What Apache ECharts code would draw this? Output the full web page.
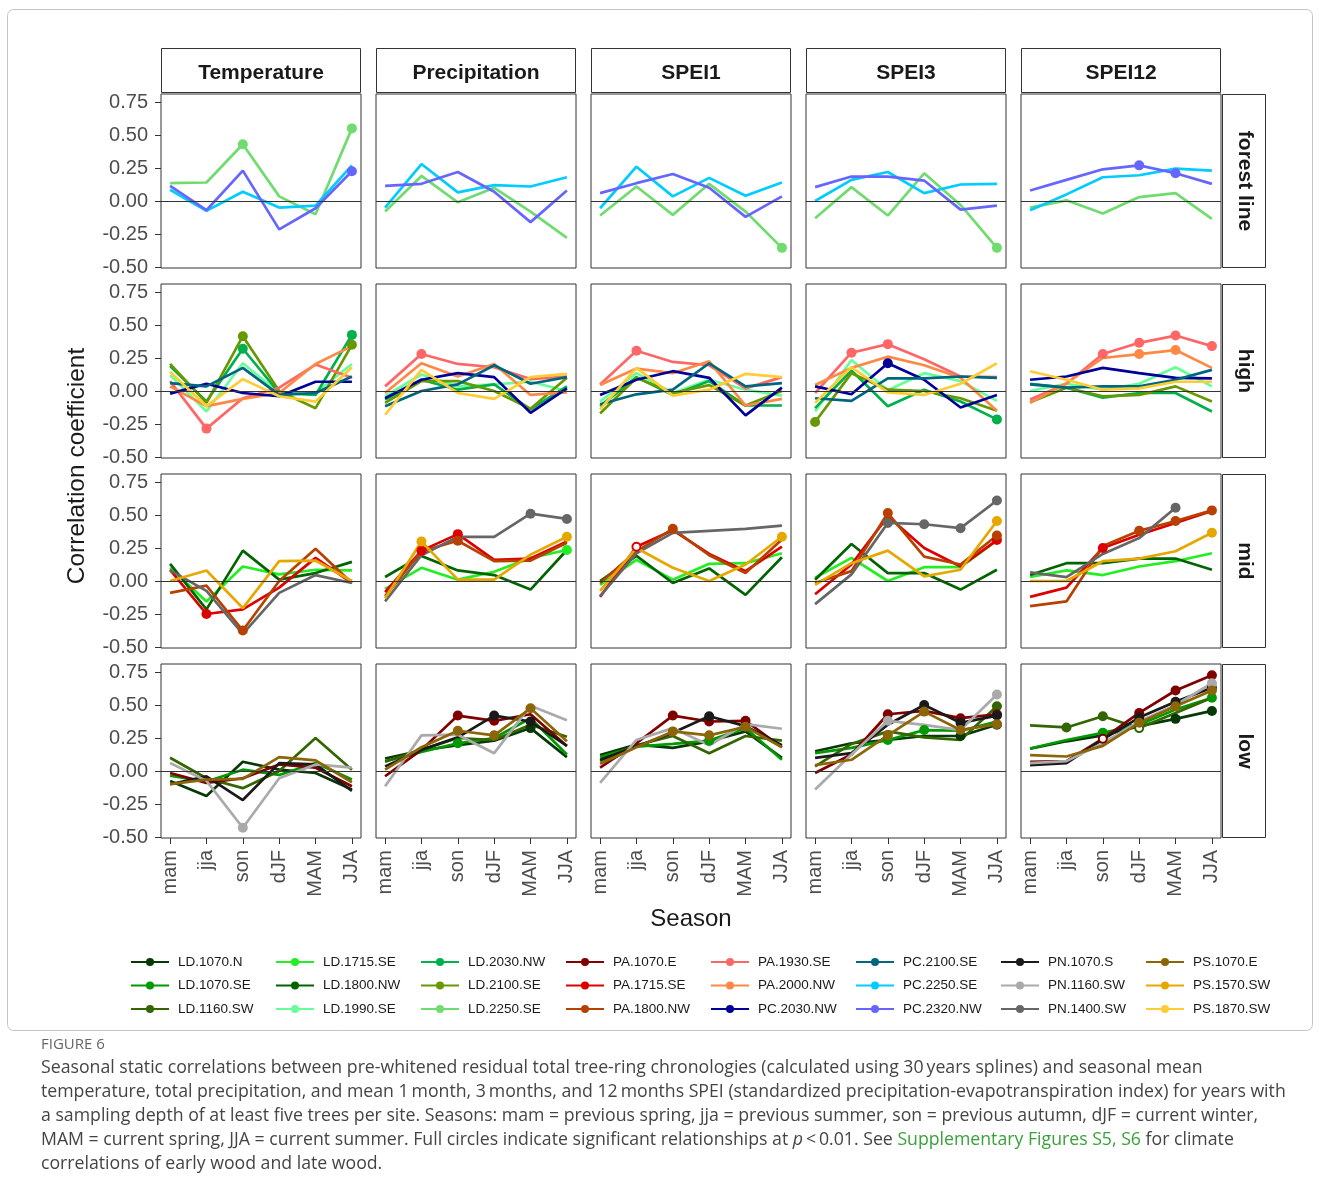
<!DOCTYPE html>
<html>
<head>
<meta charset="utf-8">
<script src="https://cdn.jsdelivr.net/npm/echarts@6/dist/echarts.min.js"></script>
<style>
html, body { margin: 0; padding: 0; background: #fff; }
#chart { width: 1320px; height: 1198px; }
</style>
</head>
<body>
<div id="chart"></div>
<script>
// ---- categories ----
const seasons = ['mam', 'jja', 'son', 'dJF', 'MAM', 'JJA'];
const climateVars = ['Temperature', 'Precipitation', 'SPEI1', 'SPEI3', 'SPEI12'];
const elevations = ['forest line', 'high', 'mid', 'low'];
const yTicks = [-0.5, -0.25, 0, 0.25, 0.5, 0.75];

const sites = [
  'LD.1070.N', 'LD.1070.SE', 'LD.1160.SW', 'LD.1715.SE', 'LD.1800.NW', 'LD.1990.SE',
  'LD.2030.NW', 'LD.2100.SE', 'LD.2250.SE', 'PA.1070.E', 'PA.1715.SE', 'PA.1800.NW',
  'PA.1930.SE', 'PA.2000.NW', 'PC.2030.NW', 'PC.2100.SE', 'PC.2250.SE', 'PC.2320.NW',
  'PN.1070.S', 'PN.1160.SW', 'PN.1400.SW', 'PS.1070.E', 'PS.1570.SW', 'PS.1870.SW'
];
const siteElevation = [
  'low', 'low', 'low', 'mid', 'mid', 'high',
  'high', 'high', 'forest line', 'low', 'mid', 'mid',
  'high', 'high', 'high', 'high', 'forest line', 'forest line',
  'low', 'low', 'mid', 'low', 'mid', 'high'
];
const siteColors = [
  '#073807', '#009a00', '#336600', '#22ee22', '#006400', '#66ff99',
  '#00b04c', '#669900', '#70dc70', '#800000', '#dd0000', '#b84000',
  '#ff6666', '#ff8844', '#000099', '#006680', '#00ccff', '#6666ff',
  '#1a1a1a', '#aaaaaa', '#666666', '#8b6508', '#e6a800', '#ffcc33'
];

// ---- correlation coefficients: rows = climate variable, columns = season ----
const LD_1070_N = [
  [-0.075, -0.19, 0.07, 0.01, -0.015, -0.14],
  [0.095, 0.155, 0.195, 0.23, 0.325, 0.105],
  [0.12, 0.20, 0.175, 0.225, 0.30, 0.10],
  [0.15, 0.21, 0.235, 0.265, 0.265, 0.35],
  [0.17, 0.225, 0.27, 0.34, 0.395, 0.455]
];
const LD_1070_SE = [
  [-0.035, -0.08, 0.01, -0.03, 0.06, -0.065],
  [0.075, 0.145, 0.21, 0.25, 0.40, 0.125],
  [0.105, 0.185, 0.205, 0.23, 0.325, 0.085],
  [0.135, 0.175, 0.235, 0.31, 0.305, 0.375],
  [0.17, 0.235, 0.29, 0.35, 0.465, 0.555]
];
const LD_1160_SW = [
  [0.10, -0.055, -0.13, 0.0, 0.25, 0.01],
  [0.07, 0.16, 0.25, 0.235, 0.35, 0.26],
  [0.075, 0.195, 0.265, 0.135, 0.265, 0.23],
  [0.035, 0.205, 0.30, 0.255, 0.235, 0.49],
  [0.345, 0.33, 0.415, 0.325, 0.44, 0.555]
];
const LD_1715_SE = [
  [0.10, -0.155, 0.11, 0.05, 0.085, 0.08],
  [-0.06, 0.10, 0.01, 0.07, 0.175, 0.235],
  [-0.03, 0.16, 0.01, 0.13, 0.135, 0.21],
  [0.025, 0.175, 0.0, 0.105, 0.105, 0.305],
  [0.03, 0.08, 0.045, 0.11, 0.15, 0.21]
];
const LD_1800_NW = [
  [0.13, -0.215, 0.23, 0.01, 0.06, 0.145],
  [0.03, 0.19, 0.08, 0.045, -0.065, 0.235],
  [0.0, 0.19, -0.015, 0.095, -0.105, 0.18],
  [0.01, 0.28, 0.06, 0.06, -0.065, 0.085],
  [0.045, 0.135, 0.135, 0.17, 0.17, 0.085]
];
const LD_1990_SE = [
  [0.12, -0.155, 0.21, -0.015, -0.015, 0.205],
  [-0.04, 0.125, 0.035, 0.05, 0.07, 0.0],
  [-0.08, 0.135, -0.015, 0.085, 0.01, -0.035],
  [-0.155, 0.235, 0.005, 0.135, 0.075, -0.075],
  [0.0, 0.055, 0.01, 0.055, 0.18, 0.035]
];
const LD_2030_NW = [
  [0.19, -0.08, 0.32, -0.015, -0.03, 0.425],
  [-0.065, 0.085, 0.01, 0.05, -0.14, 0.035],
  [-0.115, 0.105, -0.03, 0.075, -0.11, -0.11],
  [-0.13, 0.155, -0.115, 0.01, -0.08, -0.215],
  [0.055, 0.025, -0.05, -0.015, -0.015, -0.155]
];
const LD_2100_SE = [
  [0.205, -0.09, 0.415, 0.0, -0.13, 0.35],
  [-0.09, 0.075, 0.075, 0.0, -0.135, 0.10],
  [-0.17, 0.10, -0.015, 0.045, -0.11, 0.0],
  [-0.235, 0.135, 0.01, 0.0, -0.055, -0.15],
  [-0.085, 0.025, -0.04, -0.03, 0.035, -0.08]
];
const LD_2250_SE = [
  [0.135, 0.14, 0.43, 0.035, -0.10, 0.55],
  [-0.08, 0.19, -0.01, 0.10, -0.08, -0.28],
  [-0.11, 0.11, -0.105, 0.13, -0.08, -0.355],
  [-0.13, 0.105, -0.11, 0.21, -0.03, -0.355],
  [-0.05, 0.005, -0.095, 0.03, 0.06, -0.135]
];
const PA_1070_E = [
  [-0.015, -0.09, -0.055, 0.05, 0.025, -0.115],
  [-0.04, 0.16, 0.42, 0.38, 0.43, 0.19],
  [0.025, 0.21, 0.42, 0.375, 0.38, 0.18],
  [-0.015, 0.125, 0.43, 0.455, 0.40, 0.43],
  [0.07, 0.075, 0.245, 0.44, 0.61, 0.725]
];
const PA_1715_SE = [
  [0.085, -0.25, -0.215, -0.05, 0.175, -0.015],
  [-0.085, 0.23, 0.355, 0.16, 0.17, 0.30],
  [-0.12, 0.26, 0.385, 0.205, 0.075, 0.26],
  [-0.10, 0.125, 0.49, 0.25, 0.11, 0.31],
  [-0.12, -0.05, 0.25, 0.35, 0.44, 0.53]
];
const PA_1800_NW = [
  [-0.09, -0.035, -0.375, 0.0, 0.245, -0.015],
  [-0.115, 0.225, 0.305, 0.15, 0.155, 0.29],
  [-0.015, 0.225, 0.395, 0.195, 0.06, 0.315],
  [-0.015, 0.075, 0.515, 0.185, 0.125, 0.345],
  [-0.19, -0.155, 0.265, 0.38, 0.455, 0.535]
];
const PA_1930_SE = [
  [0.075, -0.285, -0.055, 0.025, 0.20, 0.10],
  [0.035, 0.28, 0.205, 0.18, 0.09, 0.11],
  [0.05, 0.305, 0.22, 0.195, 0.02, 0.105],
  [-0.015, 0.29, 0.355, 0.24, 0.11, 0.105],
  [-0.065, 0.055, 0.28, 0.365, 0.42, 0.34]
];
const PA_2000_NW = [
  [0.035, -0.115, -0.06, -0.015, 0.205, 0.34],
  [-0.015, 0.21, 0.11, 0.205, -0.03, -0.01],
  [0.045, 0.17, 0.135, 0.225, -0.11, -0.06],
  [0.045, 0.175, 0.26, 0.195, 0.10, -0.15],
  [-0.09, 0.06, 0.25, 0.28, 0.31, 0.175]
];
const PC_2030_NW = [
  [-0.02, 0.055, -0.015, -0.04, 0.07, 0.07],
  [-0.055, 0.085, 0.135, 0.105, -0.165, 0.02],
  [-0.03, 0.085, 0.15, 0.10, -0.185, 0.025],
  [0.035, -0.025, 0.21, 0.085, -0.125, -0.03],
  [0.085, 0.11, 0.175, 0.135, 0.10, 0.095]
];
const PC_2100_SE = [
  [0.06, 0.035, 0.175, -0.03, -0.015, 0.11],
  [-0.115, 0.0, 0.05, 0.195, 0.055, 0.105],
  [-0.10, -0.025, 0.01, 0.21, 0.035, 0.06],
  [-0.055, -0.075, 0.095, 0.095, 0.11, 0.10],
  [0.05, 0.025, 0.035, 0.035, 0.085, 0.16]
];
const PC_2250_SE = [
  [0.085, -0.075, 0.07, -0.05, -0.035, 0.27],
  [-0.05, 0.28, 0.065, 0.12, 0.11, 0.18],
  [-0.055, 0.26, 0.035, 0.175, 0.04, 0.14],
  [0.0, 0.16, 0.22, 0.06, 0.125, 0.13],
  [-0.07, 0.05, 0.18, 0.195, 0.245, 0.23]
];
const PC_2320_NW = [
  [0.115, -0.07, 0.23, -0.215, -0.055, 0.225],
  [0.115, 0.13, 0.22, 0.07, -0.16, 0.08],
  [0.06, 0.135, 0.205, 0.10, -0.12, 0.035],
  [0.105, 0.185, 0.185, 0.155, -0.065, -0.035],
  [0.08, 0.16, 0.24, 0.27, 0.21, 0.13]
];
const PN_1070_S = [
  [-0.10, -0.04, -0.22, 0.06, 0.05, -0.15],
  [0.035, 0.16, 0.255, 0.42, 0.375, 0.19],
  [0.085, 0.185, 0.29, 0.415, 0.34, 0.195],
  [0.10, 0.135, 0.35, 0.50, 0.365, 0.42],
  [0.045, 0.06, 0.24, 0.405, 0.525, 0.63]
];
const PN_1160_SW = [
  [0.06, -0.075, -0.43, -0.055, 0.05, 0.025],
  [-0.115, 0.27, 0.275, 0.135, 0.495, 0.385],
  [-0.09, 0.235, 0.325, 0.195, 0.355, 0.32],
  [-0.14, 0.125, 0.38, 0.35, 0.31, 0.58],
  [0.06, 0.075, 0.21, 0.375, 0.50, 0.665]
];
const PN_1400_SW = [
  [0.08, -0.075, -0.40, -0.09, 0.045, -0.015],
  [-0.155, 0.195, 0.335, 0.335, 0.51, 0.47],
  [-0.115, 0.21, 0.365, 0.38, 0.395, 0.42],
  [-0.175, 0.05, 0.44, 0.43, 0.40, 0.61],
  [0.065, 0.03, 0.205, 0.325, 0.555, null]
];
const PS_1070_E = [
  [-0.10, -0.065, -0.06, 0.105, 0.08, -0.085],
  [0.01, 0.18, 0.305, 0.27, 0.475, 0.225],
  [0.055, 0.18, 0.30, 0.27, 0.335, 0.18],
  [0.045, 0.085, 0.27, 0.45, 0.31, 0.355],
  [0.12, 0.11, 0.19, 0.365, 0.49, 0.61]
];
const PS_1570_SW = [
  [0.0, 0.08, -0.205, 0.15, 0.155, 0.0],
  [-0.13, 0.30, 0.01, 0.01, 0.20, 0.335],
  [-0.075, 0.25, 0.10, 0.0, 0.125, 0.335],
  [-0.03, 0.135, 0.23, 0.035, 0.085, 0.455],
  [0.0, 0.0, 0.15, 0.17, 0.225, 0.365]
];
const PS_1870_SW = [
  [0.145, -0.115, 0.09, -0.04, -0.08, 0.18],
  [-0.18, 0.16, -0.015, -0.06, 0.105, 0.13],
  [-0.14, 0.175, -0.035, 0.01, 0.13, 0.105],
  [-0.09, 0.18, -0.01, -0.03, 0.055, 0.21],
  [0.15, 0.085, 0.01, 0.02, 0.07, 0.07]
];

// significant at p < 0.01 (filled circles): [site, variable, seasons]
const significant = [
  ['LD.2250.SE', 'Temperature', ['son', 'JJA']],
  ['LD.2250.SE', 'SPEI1', ['JJA']],
  ['LD.2250.SE', 'SPEI3', ['JJA']],
  ['PC.2320.NW', 'Temperature', ['JJA']],
  ['PC.2320.NW', 'SPEI12', ['dJF', 'MAM']],
  ['LD.2030.NW', 'Temperature', ['son', 'JJA']],
  ['LD.2030.NW', 'SPEI3', ['JJA']],
  ['LD.2100.SE', 'Temperature', ['son', 'JJA']],
  ['LD.2100.SE', 'SPEI3', ['mam']],
  ['PA.1930.SE', 'Temperature', ['jja']],
  ['PA.1930.SE', 'Precipitation', ['jja']],
  ['PA.1930.SE', 'SPEI1', ['jja']],
  ['PA.1930.SE', 'SPEI3', ['jja', 'son']],
  ['PA.1930.SE', 'SPEI12', ['son', 'dJF', 'MAM', 'JJA']],
  ['PA.2000.NW', 'SPEI12', ['dJF', 'MAM']],
  ['PC.2030.NW', 'SPEI3', ['son']],
  ['LD.1715.SE', 'Precipitation', ['JJA']],
  ['PA.1715.SE', 'Temperature', ['jja']],
  ['PA.1715.SE', 'Precipitation', ['jja', 'son']],
  ['PA.1715.SE', 'SPEI3', ['JJA']],
  ['PA.1715.SE', 'SPEI12', ['son']],
  ['PA.1800.NW', 'Temperature', ['son']],
  ['PA.1800.NW', 'Precipitation', ['son']],
  ['PA.1800.NW', 'SPEI1', ['son']],
  ['PA.1800.NW', 'SPEI3', ['son', 'JJA']],
  ['PA.1800.NW', 'SPEI12', ['dJF', 'MAM', 'JJA']],
  ['PN.1400.SW', 'Precipitation', ['MAM', 'JJA']],
  ['PN.1400.SW', 'SPEI3', ['son', 'dJF', 'MAM', 'JJA']],
  ['PN.1400.SW', 'SPEI12', ['MAM']],
  ['PS.1570.SW', 'Precipitation', ['jja', 'JJA']],
  ['PS.1570.SW', 'SPEI1', ['JJA']],
  ['PS.1570.SW', 'SPEI3', ['JJA']],
  ['PS.1570.SW', 'SPEI12', ['JJA']],
  ['LD.1070.N', 'Precipitation', ['MAM']],
  ['LD.1070.N', 'SPEI3', ['MAM', 'JJA']],
  ['LD.1070.N', 'SPEI12', ['MAM', 'JJA']],
  ['LD.1070.SE', 'Precipitation', ['son']],
  ['LD.1070.SE', 'SPEI1', ['dJF']],
  ['LD.1070.SE', 'SPEI3', ['son', 'dJF']],
  ['LD.1070.SE', 'SPEI12', ['son', 'JJA']],
  ['LD.1160.SW', 'SPEI3', ['JJA']],
  ['LD.1160.SW', 'SPEI12', ['jja', 'son']],
  ['PA.1070.E', 'Precipitation', ['son', 'dJF']],
  ['PA.1070.E', 'SPEI1', ['son', 'dJF', 'MAM']],
  ['PA.1070.E', 'SPEI3', ['son', 'MAM', 'JJA']],
  ['PA.1070.E', 'SPEI12', ['dJF', 'MAM', 'JJA']],
  ['PN.1070.S', 'Precipitation', ['dJF', 'MAM']],
  ['PN.1070.S', 'SPEI1', ['dJF']],
  ['PN.1070.S', 'SPEI3', ['dJF', 'MAM', 'JJA']],
  ['PN.1070.S', 'SPEI12', ['dJF', 'MAM', 'JJA']],
  ['PN.1160.SW', 'Temperature', ['son']],
  ['PN.1160.SW', 'SPEI3', ['son', 'JJA']],
  ['PN.1160.SW', 'SPEI12', ['JJA']],
  ['PS.1070.E', 'Precipitation', ['son', 'dJF', 'MAM']],
  ['PS.1070.E', 'SPEI1', ['son', 'dJF', 'MAM']],
  ['PS.1070.E', 'SPEI3', ['son', 'dJF', 'MAM', 'JJA']],
  ['PS.1070.E', 'SPEI12', ['dJF', 'MAM', 'JJA']]
];
// weaker relationships drawn as hollow circles
const weaker = [
  ['PA.1715.SE', 'SPEI1', ['jja']],
  ['LD.1160.SW', 'SPEI12', ['dJF']],
  ['PA.1070.E', 'SPEI12', ['son']]
];

const corrBySite = {
  'LD.1070.N': LD_1070_N, 'LD.1070.SE': LD_1070_SE, 'LD.1160.SW': LD_1160_SW,
  'LD.1715.SE': LD_1715_SE, 'LD.1800.NW': LD_1800_NW, 'LD.1990.SE': LD_1990_SE,
  'LD.2030.NW': LD_2030_NW, 'LD.2100.SE': LD_2100_SE, 'LD.2250.SE': LD_2250_SE,
  'PA.1070.E': PA_1070_E, 'PA.1715.SE': PA_1715_SE, 'PA.1800.NW': PA_1800_NW,
  'PA.1930.SE': PA_1930_SE, 'PA.2000.NW': PA_2000_NW, 'PC.2030.NW': PC_2030_NW,
  'PC.2100.SE': PC_2100_SE, 'PC.2250.SE': PC_2250_SE, 'PC.2320.NW': PC_2320_NW,
  'PN.1070.S': PN_1070_S, 'PN.1160.SW': PN_1160_SW, 'PN.1400.SW': PN_1400_SW,
  'PS.1070.E': PS_1070_E, 'PS.1570.SW': PS_1570_SW, 'PS.1870.SW': PS_1870_SW
};

// ---- layout ----
const FONT = '"Liberation Sans", Arial, sans-serif';
const CAPTION_FONT = '"Open Sans", "Noto Sans", sans-serif';
const colLeft = [161, 376, 591, 806, 1021];
const panelW = 200;
const rowTop = [94, 284, 474, 664];
const panelH = 174;
const stripTop = 48, stripH = 45;
const stripRightX = 1222, stripRightW = 44;

function flagSet(list) {
  const s = new Set();
  list.forEach(([site, v, ss]) => ss.forEach(se => s.add(site + '|' + v + '|' + se)));
  return s;
}
const sigSet = flagSet(significant);
const weakSet = flagSet(weaker);

const grids = [], xAxes = [], yAxes = [], series = [];
elevations.forEach((elev, r) => {
  climateVars.forEach((cv, c) => {
    const gi = r * climateVars.length + c;
    grids.push({
      left: colLeft[c], top: rowTop[r], width: panelW, height: panelH,
      show: true, backgroundColor: '#fff', borderColor: '#333', borderWidth: 1
    });
    xAxes.push({
      gridIndex: gi, type: 'value', min: -0.25, max: 5.25, position: 'bottom',
      axisLine: { show: false, onZero: false }, splitLine: { show: false },
      axisTick: { show: r === elevations.length - 1, inside: false, customValues: [0, 1, 2, 3, 4, 5],
        length: 6, lineStyle: { color: '#333', width: 1 } },
      axisLabel: { show: r === elevations.length - 1, customValues: [0, 1, 2, 3, 4, 5],
        formatter: v => seasons[Math.round(v)], rotate: 90, margin: 12,
        fontSize: 20, color: '#4d4d4d', fontFamily: FONT }
    });
    yAxes.push({
      gridIndex: gi, type: 'value', min: -0.5076, max: 0.8106, position: 'left',
      axisLine: { show: false, onZero: false }, splitLine: { show: false },
      axisTick: { show: c === 0, inside: false, customValues: yTicks, length: 6,
        lineStyle: { color: '#333', width: 1 } },
      axisLabel: { show: c === 0, customValues: yTicks, formatter: v => v.toFixed(2), margin: 13,
        fontSize: 20, color: '#4d4d4d', fontFamily: FONT }
    });
    // horizontal reference line at zero
    series.push({
      type: 'line', xAxisIndex: gi, yAxisIndex: gi, data: [], silent: true, z: 1,
      markLine: {
        silent: true, symbol: 'none', animation: false,
        label: { show: false },
        lineStyle: { color: '#333', width: 1, type: 'solid' },
        emphasis: { disabled: true },
        data: [{ yAxis: 0 }]
      }
    });
  });
});

sites.forEach((site, si) => {
  const r = elevations.indexOf(siteElevation[si]);
  const color = siteColors[si];
  const values = corrBySite[site];
  climateVars.forEach((cv, c) => {
    const gi = r * climateVars.length + c;
    const data = [];
    values[c].forEach((y, i) => {
      if (y == null) return;
      const key = site + '|' + cv + '|' + seasons[i];
      if (sigSet.has(key)) {
        data.push({ value: [i, y], symbol: 'circle', symbolSize: 10 });
      } else if (weakSet.has(key)) {
        data.push({ value: [i, y], symbol: 'emptyCircle', symbolSize: 8,
          itemStyle: { borderWidth: 2.5 } });
      } else {
        data.push({ value: [i, y] });
      }
    });
    series.push({
      type: 'line', name: site, xAxisIndex: gi, yAxisIndex: gi,
      data: data, symbol: 'none', z: 2,
      lineStyle: { color: color, width: 2.7 },
      itemStyle: { color: color },
      emphasis: { disabled: true },
      animation: false
    });
  });
});

// legend: 8 columns of 3 sites each
const legends = [];
for (let k = 0; k < 8; k++) {
  legends.push({
    orient: 'vertical', left: 125 + k * 145, top: 950,
    itemWidth: 38, itemHeight: 10, itemGap: 9.5,
    selectedMode: false,
    textStyle: { fontSize: 13.5, color: '#1a1a1a', fontFamily: FONT, padding: [0, 0, 0, 4] },
    data: sites.slice(k * 3, k * 3 + 3)
  });
}

// strips, axis titles, frame and caption
const graphics = [];
graphics.push({
  type: 'rect', z: -10, silent: true,
  shape: { x: 7.5, y: 9.5, width: 1305, height: 1021, r: 6 },
  style: { fill: 'none', stroke: '#c4c4c4', lineWidth: 1 }
});
climateVars.forEach((cv, c) => {
  graphics.push({
    type: 'rect', silent: true,
    shape: { x: colLeft[c] + 0.5, y: stripTop + 0.5, width: panelW - 1, height: stripH - 1 },
    style: { fill: '#fff', stroke: '#333', lineWidth: 1 }
  });
  graphics.push({
    type: 'text', silent: true, x: colLeft[c] + panelW / 2, y: stripTop + stripH / 2 + 3,
    style: { text: cv, align: 'center', verticalAlign: 'middle', fill: '#1a1a1a',
      font: 'bold 21px ' + FONT }
  });
});
elevations.forEach((elev, r) => {
  graphics.push({
    type: 'rect', silent: true,
    shape: { x: stripRightX + 0.5, y: rowTop[r] + 0.5, width: stripRightW - 1, height: panelH - 1 },
    style: { fill: '#fff', stroke: '#333', lineWidth: 1 }
  });
  graphics.push({
    type: 'text', silent: true, x: stripRightX + stripRightW / 2 + 1, y: rowTop[r] + panelH / 2,
    rotation: -Math.PI / 2,
    style: { text: elev, align: 'center', verticalAlign: 'middle', fill: '#1a1a1a',
      font: 'bold 21px ' + FONT }
  });
});
graphics.push({
  type: 'text', silent: true, x: 77, y: 466, rotation: Math.PI / 2,
  style: { text: 'Correlation coefficient', align: 'center', verticalAlign: 'middle',
    fill: '#1a1a1a', font: '24.5px ' + FONT }
});
graphics.push({
  type: 'text', silent: true, x: 691, y: 919,
  style: { text: 'Season', align: 'center', verticalAlign: 'middle',
    fill: '#1a1a1a', font: '24px ' + FONT }
});
graphics.push({
  type: 'text', silent: true, x: 41, y: 1045,
  style: { text: 'FIGURE 6', align: 'left', verticalAlign: 'middle',
    fill: '#666', font: '15px ' + CAPTION_FONT }
});
const captionLines = [
  'Seasonal static correlations between pre-whitened residual total tree-ring chronologies (calculated using 30\u2009years splines) and seasonal mean',
  'temperature, total precipitation, and mean 1\u2009month, 3\u2009months, and 12\u2009months SPEI (standardized precipitation-evapotranspiration index) for years with',
  'a sampling depth of at least five trees per site. Seasons: mam = previous spring, jja = previous summer, son = previous autumn, dJF = current winter,',
  'MAM = current spring, JJA = current summer. Full circles indicate significant relationships at {i|p}\u2009<\u20090.01. See {g|Supplementary Figures S5, S6} for climate',
  'correlations of early wood and late wood.'
];
const CAP_SIZE = 17.7;
captionLines.forEach((line, k) => {
  graphics.push({
    type: 'text', silent: true, x: 41, y: 1068 + k * 24,
    style: {
      text: line, align: 'left', verticalAlign: 'middle',
      fill: '#444', fontSize: CAP_SIZE, fontFamily: CAPTION_FONT,
      rich: {
        i: { fill: '#444', fontSize: CAP_SIZE, fontFamily: CAPTION_FONT, fontStyle: 'italic' },
        g: { fill: '#3aa13a', fontSize: CAP_SIZE, fontFamily: CAPTION_FONT }
      }
    }
  });
});

const chart = echarts.init(document.getElementById('chart'), null, { renderer: 'canvas' });
chart.setOption({
  backgroundColor: '#fff',
  animation: false,
  grid: grids,
  xAxis: xAxes,
  yAxis: yAxes,
  legend: legends,
  series: series,
  graphic: { elements: graphics }
});
</script>
</body>
</html>
